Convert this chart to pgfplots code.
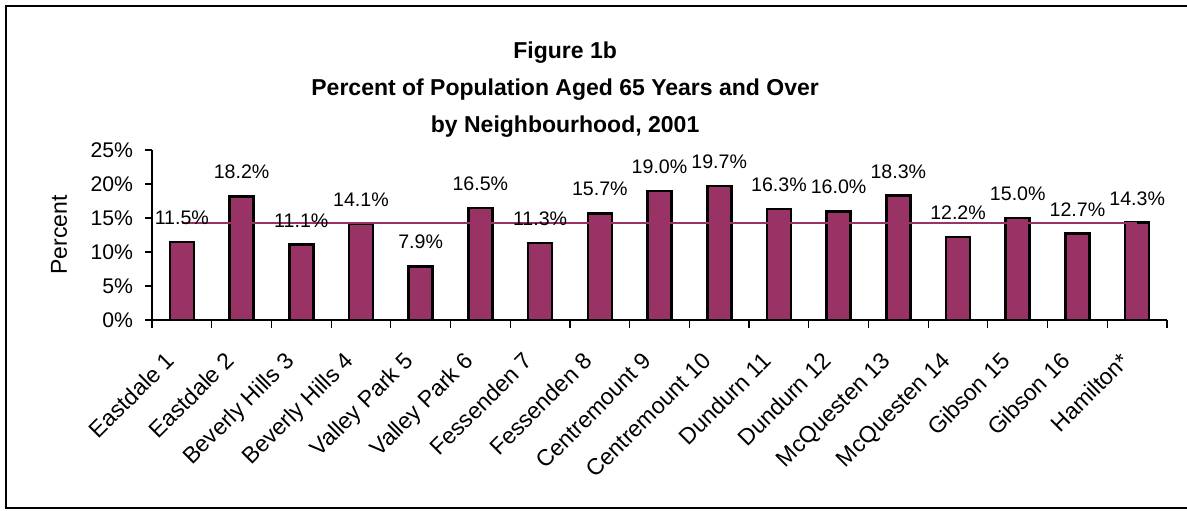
\documentclass[border=0pt]{standalone}
\usepackage{pgfplots}
\pgfplotsset{compat=1.18}
\usepackage{fontspec}
\setmainfont{Liberation Sans}
\definecolor{plum}{HTML}{993366}
\begin{document}
\begin{tikzpicture}
\path[use as bounding box] (0,0) rectangle (593.5pt,-255pt);
\draw[line width=1pt] (3pt,-3pt) rectangle (600pt,-254pt);
\begin{axis}[
  at={(76pt,-160pt)}, anchor=south west,
  scale only axis, width=507.5pt, height=85pt,
  xmin=-0.5, xmax=16.5, ymin=0, ymax=25,
  axis lines*=left,
  axis line style={line width=0.6pt},
  clip=false,
  ytick={0,5,...,25},
  yticklabels={0\%,5\%,10\%,15\%,20\%,25\%},
  xtick={0,...,16},
  xticklabels={Eastdale 1,Eastdale 2,Beverly Hills 3,Beverly Hills 4,Valley Park 5,Valley Park 6,Fessenden 7,Fessenden 8,Centremount 9,Centremount 10,Dundurn 11,Dundurn 12,McQuesten 13,McQuesten 14,Gibson 15,Gibson 16,Hamilton*},
  major x tick style={draw=none},
  minor xtick={-0.5,0.5,...,16.5},
  tick align=outside,
  major tick length=3.5pt,
  minor tick length=4pt,
  tick style={black, line width=0.6pt},
  xticklabel style={rotate=45, anchor=north east, inner sep=0pt, font=\fontsize{11.5}{13}\selectfont, xshift=-14.6pt, yshift=-1.9pt},
  yticklabel style={font=\fontsize{10.6}{12}\selectfont, xshift=-2.5pt},
  ylabel={Percent},
  ylabel style={at={(axis description cs:-0.0916,0.5)}, anchor=center, font=\fontsize{11.5}{13}\selectfont},
  title={Figure 1b\\Percent of Population Aged 65 Years and Over\\by Neighbourhood, 2001},
  title style={at={(axis description cs:0.407,1.57)}, anchor=north, align=center, inner sep=0pt, font=\bfseries\fontsize{11.5}{18.5}\selectfont},
]
\addplot[ybar, bar width=12pt, fill=plum, draw=black, line width=1.3pt] coordinates {
(0,11.5) (1,18.2) (2,11.1) (3,14.1) (4,7.9) (5,16.5) (6,11.3) (7,15.7) (8,19.0)
(9,19.7) (10,16.3) (11,16.0) (12,18.3) (13,12.2) (14,15.0) (15,12.7) (16,14.3)};
\addplot[plum, line width=1.2pt, mark=none] coordinates {(0,14.3) (16,14.3)};
\addplot[draw=none, mark=none, nodes near coords, point meta=explicit symbolic,
  nodes near coords style={anchor=base, yshift=8.75pt, inner sep=0pt, font=\fontsize{9.8}{11}\selectfont}] coordinates {
(0,11.5)[11.5\%] (1,18.2)[18.2\%] (2,11.1)[11.1\%] (3,14.1)[14.1\%] (4,7.9)[7.9\%]
(5,16.5)[16.5\%] (6,11.3)[11.3\%] (7,15.7)[15.7\%] (8,19.0)[19.0\%] (9,19.7)[19.7\%]
(10,16.3)[16.3\%] (11,16.0)[16.0\%] (12,18.3)[18.3\%] (13,12.2)[12.2\%] (14,15.0)[15.0\%]
(15,12.7)[12.7\%] (16,14.3)[14.3\%]};
\end{axis}
\end{tikzpicture}
\end{document}
